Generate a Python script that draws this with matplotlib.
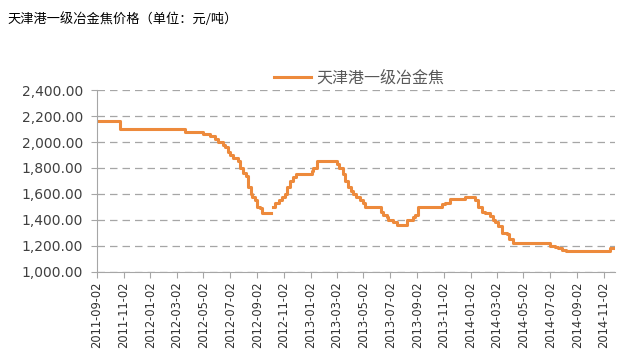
import numpy as np
import pandas as pd
import matplotlib
matplotlib.use("Agg")
import matplotlib.pyplot as plt
from matplotlib.ticker import FuncFormatter

plt.rcParams['font.family'] = ['Noto Sans CJK SC', 'DejaVu Sans']

# price change dates (the price holds until the next date), NaN = no quote
dates = ["2011-09-02", "2011-10-24", "2012-03-21", "2012-05-01", "2012-05-17",
         "2012-05-28", "2012-06-04", "2012-06-15", "2012-06-20", "2012-06-27",
         "2012-07-01", "2012-07-08", "2012-07-20", "2012-07-24", "2012-07-31",
         "2012-08-07", "2012-08-11", "2012-08-18", "2012-08-21", "2012-08-27",
         "2012-09-01", "2012-09-08", "2012-09-12", "2012-10-03", "2012-10-08",
         "2012-10-13", "2012-10-22", "2012-10-29", "2012-11-05", "2012-11-09",
         "2012-11-16", "2012-11-23", "2012-11-28", "2013-01-05", "2013-01-08",
         "2013-01-17", "2013-03-03", "2013-03-08", "2013-03-17", "2013-03-22",
         "2013-03-28", "2013-04-04", "2013-04-09", "2013-04-16", "2013-04-25",
         "2013-05-02", "2013-05-06", "2013-06-10", "2013-06-16", "2013-06-25",
         "2013-06-28", "2013-07-09", "2013-07-18", "2013-08-10", "2013-08-22",
         "2013-08-28", "2013-09-04", "2013-10-29", "2013-11-05", "2013-11-16",
         "2013-12-20", "2014-01-12", "2014-01-19", "2014-01-28", "2014-02-04",
         "2014-02-15", "2014-02-22", "2014-02-27", "2014-03-06", "2014-03-15",
         "2014-03-26", "2014-03-31", "2014-04-09", "2014-07-02", "2014-07-14",
         "2014-07-21", "2014-07-30", "2014-08-06", "2014-11-15", "2014-11-27"]
prices = [2160, 2100, 2080, 2060, 2050,
          2020, 2000, 1980, 1960, 1920,
          1900, 1880, 1850, 1800, 1760,
          1740, 1650, 1600, 1580, 1550,
          1500, 1490, 1450, np.nan, 1500,
          1530, 1550, 1580, 1600, 1650,
          1700, 1730, 1750, 1780, 1800,
          1850, 1830, 1800, 1750, 1700,
          1650, 1620, 1600, 1580, 1550,
          1530, 1500, 1460, 1440, 1420,
          1400, 1380, 1360, 1400, 1420,
          1440, 1500, 1520, 1530, 1560,
          1580, 1550, 1500, 1460, 1450,
          1430, 1400, 1380, 1350, 1300,
          1290, 1250, 1220, 1200, 1190,
          1180, 1170, 1160, 1180, 1180]

tick_labels = ["2011-09-02", "2011-11-02", "2012-01-02", "2012-03-02", "2012-05-02",
               "2012-07-02", "2012-09-02", "2012-11-02", "2013-01-02", "2013-03-02",
               "2013-05-02", "2013-07-02", "2013-09-02", "2013-11-02", "2014-01-02",
               "2014-03-02", "2014-05-02", "2014-07-02", "2014-09-02", "2014-11-02"]

series_name = "天津港一级冶金焦"
title = "天津港一级冶金焦价格（单位：元/吨）"

x = pd.to_datetime(dates)

fig = plt.figure(figsize=(6.42, 3.59), dpi=100)
ax = fig.add_axes([0.151, 0.243, 0.807, 0.506])

ax.step(x, prices, where='post', color='#ED8A3C', lw=2.2, label=series_name)

ax.set_ylim(1000, 2400)
ax.set_yticks(np.arange(1000, 2401, 200))
ax.yaxis.set_major_formatter(FuncFormatter(lambda v, p: f"{v:,.2f}"))
ax.set_xlim(pd.Timestamp("2011-09-02"), pd.Timestamp("2014-11-27"))
ax.set_xticks(pd.to_datetime(tick_labels))
ax.set_xticklabels(tick_labels, rotation=90, fontsize=8.3,
                   family='DejaVu Sans', color='#303030')
for lab in ax.get_yticklabels():
    lab.set_fontsize(10)
    lab.set_family('DejaVu Sans')
    lab.set_color('#404040')

ax.grid(axis='y', color='#a6a6a6', linestyle=(0, (6, 4)), lw=0.9)
ax.set_axisbelow(True)
for s in ['top', 'right']:
    ax.spines[s].set_visible(False)
for s in ['left', 'bottom']:
    ax.spines[s].set_color('#a6a6a6')
ax.tick_params(axis='both', direction='out', color='#a6a6a6', length=4, pad=3)
ax.tick_params(axis='y', length=4, pad=6)

fig.legend(loc='center left', bbox_to_anchor=(0.415, 0.783), frameon=False,
           fontsize=11.5, handlelength=2.3, handletextpad=0.3,
           labelcolor='#595959', borderpad=0)

fig.text(0.012, 0.948, title, fontsize=9.5, color='#000000', va='center')

fig.savefig("out.png", dpi=100, facecolor='white')
